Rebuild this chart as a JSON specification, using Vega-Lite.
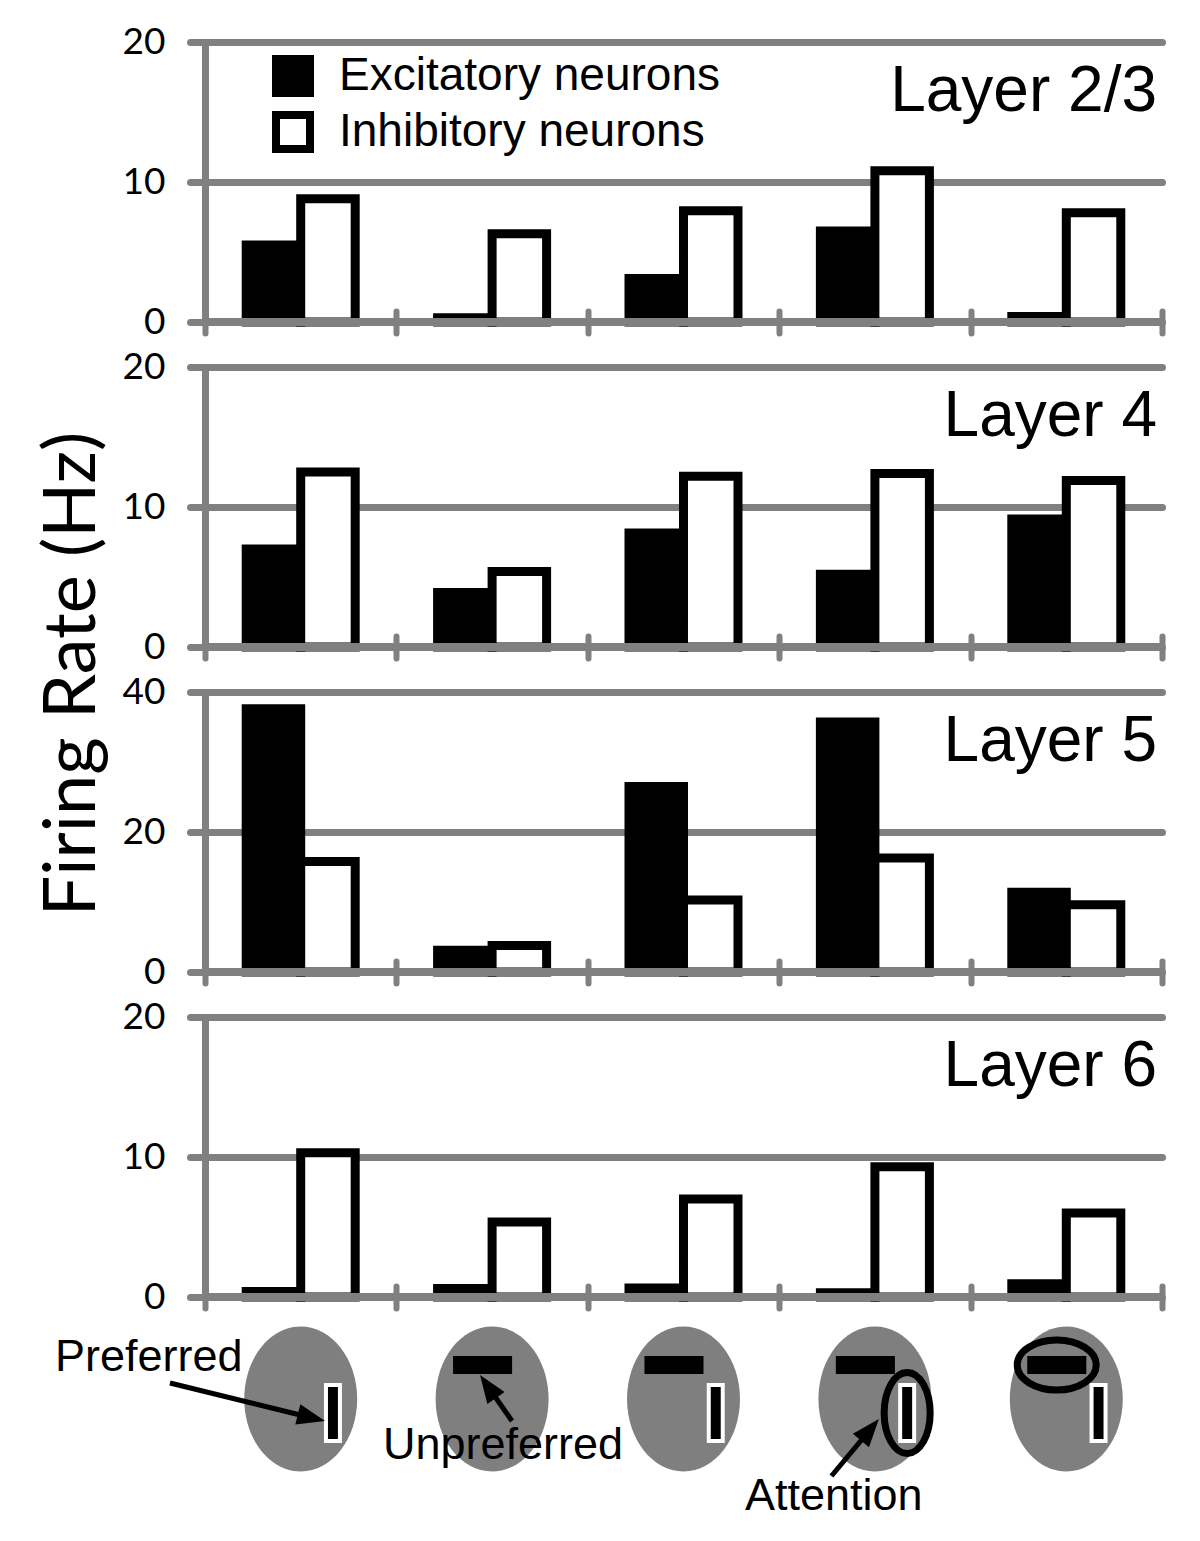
{
  "$schema": "https://vega.github.io/schema/vega-lite/v6.json",
  "padding": {"left": 37, "top": 23, "right": 0, "bottom": 0},
  "background": "white",
  "spacing": 6,
  "datasets": {
    "bars": [
      {"layer": "Layer 2/3", "cond": "Preferred", "type": "Excitatory neurons", "rate": 5.5},
      {"layer": "Layer 2/3", "cond": "Preferred", "type": "Inhibitory neurons", "rate": 8.8},
      {"layer": "Layer 2/3", "cond": "Unpreferred", "type": "Excitatory neurons", "rate": 0.3},
      {"layer": "Layer 2/3", "cond": "Unpreferred", "type": "Inhibitory neurons", "rate": 6.3},
      {"layer": "Layer 2/3", "cond": "Both", "type": "Excitatory neurons", "rate": 3.1},
      {"layer": "Layer 2/3", "cond": "Both", "type": "Inhibitory neurons", "rate": 7.95},
      {"layer": "Layer 2/3", "cond": "Attend preferred", "type": "Excitatory neurons", "rate": 6.5},
      {"layer": "Layer 2/3", "cond": "Attend preferred", "type": "Inhibitory neurons", "rate": 10.8},
      {"layer": "Layer 2/3", "cond": "Attend unpreferred", "type": "Excitatory neurons", "rate": 0.4},
      {"layer": "Layer 2/3", "cond": "Attend unpreferred", "type": "Inhibitory neurons", "rate": 7.8},
      {"layer": "Layer 4", "cond": "Preferred", "type": "Excitatory neurons", "rate": 7.0},
      {"layer": "Layer 4", "cond": "Preferred", "type": "Inhibitory neurons", "rate": 12.5},
      {"layer": "Layer 4", "cond": "Unpreferred", "type": "Excitatory neurons", "rate": 3.9},
      {"layer": "Layer 4", "cond": "Unpreferred", "type": "Inhibitory neurons", "rate": 5.4},
      {"layer": "Layer 4", "cond": "Both", "type": "Excitatory neurons", "rate": 8.15},
      {"layer": "Layer 4", "cond": "Both", "type": "Inhibitory neurons", "rate": 12.2},
      {"layer": "Layer 4", "cond": "Attend preferred", "type": "Excitatory neurons", "rate": 5.2},
      {"layer": "Layer 4", "cond": "Attend preferred", "type": "Inhibitory neurons", "rate": 12.4},
      {"layer": "Layer 4", "cond": "Attend unpreferred", "type": "Excitatory neurons", "rate": 9.15},
      {"layer": "Layer 4", "cond": "Attend unpreferred", "type": "Inhibitory neurons", "rate": 11.9},
      {"layer": "Layer 5", "cond": "Preferred", "type": "Excitatory neurons", "rate": 37.6},
      {"layer": "Layer 5", "cond": "Preferred", "type": "Inhibitory neurons", "rate": 15.8},
      {"layer": "Layer 5", "cond": "Unpreferred", "type": "Excitatory neurons", "rate": 3.1},
      {"layer": "Layer 5", "cond": "Unpreferred", "type": "Inhibitory neurons", "rate": 3.8},
      {"layer": "Layer 5", "cond": "Both", "type": "Excitatory neurons", "rate": 26.5},
      {"layer": "Layer 5", "cond": "Both", "type": "Inhibitory neurons", "rate": 10.3},
      {"layer": "Layer 5", "cond": "Attend preferred", "type": "Excitatory neurons", "rate": 35.7},
      {"layer": "Layer 5", "cond": "Attend preferred", "type": "Inhibitory neurons", "rate": 16.3},
      {"layer": "Layer 5", "cond": "Attend unpreferred", "type": "Excitatory neurons", "rate": 11.4},
      {"layer": "Layer 5", "cond": "Attend unpreferred", "type": "Inhibitory neurons", "rate": 9.6},
      {"layer": "Layer 6", "cond": "Preferred", "type": "Excitatory neurons", "rate": 0.4},
      {"layer": "Layer 6", "cond": "Preferred", "type": "Inhibitory neurons", "rate": 10.3},
      {"layer": "Layer 6", "cond": "Unpreferred", "type": "Excitatory neurons", "rate": 0.6},
      {"layer": "Layer 6", "cond": "Unpreferred", "type": "Inhibitory neurons", "rate": 5.35},
      {"layer": "Layer 6", "cond": "Both", "type": "Excitatory neurons", "rate": 0.65},
      {"layer": "Layer 6", "cond": "Both", "type": "Inhibitory neurons", "rate": 7.0},
      {"layer": "Layer 6", "cond": "Attend preferred", "type": "Excitatory neurons", "rate": 0.3},
      {"layer": "Layer 6", "cond": "Attend preferred", "type": "Inhibitory neurons", "rate": 9.3},
      {"layer": "Layer 6", "cond": "Attend unpreferred", "type": "Excitatory neurons", "rate": 0.95},
      {"layer": "Layer 6", "cond": "Attend unpreferred", "type": "Inhibitory neurons", "rate": 6.0}
    ],
    "stimuli": [{"x": 0.5, "y": 3.9}, {"x": 1.5, "y": 3.9}, {"x": 2.5, "y": 3.9}, {"x": 3.5, "y": 3.9}, {"x": 4.5, "y": 3.9}],
    "vbars": [
      {"x": 0.632, "x2": 0.705, "y": 3.2, "y2": 6.0},
      {"x": 2.632, "x2": 2.705, "y": 3.2, "y2": 6.0},
      {"x": 3.632, "x2": 3.705, "y": 3.2, "y2": 6.0},
      {"x": 4.632, "x2": 4.705, "y": 3.2, "y2": 6.0}
    ],
    "hbars": [
      {"x": 1.296, "x2": 1.6045, "y": 1.75, "y2": 2.65},
      {"x": 2.296, "x2": 2.6045, "y": 1.75, "y2": 2.65},
      {"x": 3.296, "x2": 3.6045, "y": 1.75, "y2": 2.65},
      {"x": 4.296, "x2": 4.6045, "y": 1.75, "y2": 2.65}
    ],
    "attnV": [{"x": 3.6685, "y": 4.6}],
    "attnH": [{"x": 4.45, "y": 2.2}],
    "arrows": [
      {"label": "Preferred", "x": -0.183, "y": 3.1, "x2": 0.556, "y2": 4.835, "angle": 13.8},
      {"label": "Unpreferred", "x": 1.604, "y": 5.0, "x2": 1.4786, "y2": 3.275, "angle": 235.2},
      {"label": "Attention", "x": 3.273, "y": 7.75, "x2": 3.474, "y2": 5.44, "angle": 309.8}
    ],
    "labels": [
      {"text": "Preferred", "x": -0.784, "y": 2.5},
      {"text": "Unpreferred", "x": 0.93, "y": 6.9},
      {"text": "Attention", "x": 2.821, "y": 9.45}
    ]
  },
  "vconcat": [
    {
      "title": {"text": "Firing Rate (Hz)", "orient": "left", "anchor": "middle", "frame": "bounds", "font": "Lato", "fontSize": 72, "fontWeight": "normal", "color": "black", "offset": -60, "baseline": "bottom", "dy": 0},
      "bounds": "flush",
      "spacing": 45,
      "data": {"name": "bars"},
      "vconcat": [
        {
          "width": 957, "height": 280,
          "title": {"text": "Layer 2/3"},
          "transform": [{"filter": "datum.layer == 'Layer 2/3'"}],
          "layer": [
            {"mark": {"type": "bar", "stroke": "black", "strokeWidth": 9},
             "encoding": {
               "x": {"field": "cond", "type": "nominal", "sort": null, "scale": {"paddingInner": 0, "paddingOuter": 0}},
               "xOffset": {"field": "type", "type": "nominal", "sort": ["Excitatory neurons", "Inhibitory neurons"], "scale": {"paddingInner": 0, "paddingOuter": 0.756}},
               "y": {"field": "rate", "type": "quantitative", "scale": {"domain": [0, 20], "nice": false}, "axis": {"values": [0, 10, 20]}},
               "fill": {"field": "type", "type": "nominal", "scale": {"domain": ["Excitatory neurons", "Inhibitory neurons"], "range": ["black", "white"]},
                 "legend": {"orient": "none", "legendX": 65, "legendY": 11, "title": null, "padding": 0, "symbolType": "square", "symbolSize": 1156, "symbolStrokeColor": "black", "symbolStrokeWidth": 8, "symbolOpacity": 1, "labelFont": "Liberation Sans", "labelFontSize": 46, "labelColor": "black", "labelOffset": 23, "rowPadding": -10, "labelLimit": 0}}
             }},
            {"mark": {"type": "rule", "color": "#808080", "strokeWidth": 8}, "encoding": {"y": {"datum": 0}}}
          ]
        },
        {
          "width": 957, "height": 280,
          "title": {"text": "Layer 4"},
          "transform": [{"filter": "datum.layer == 'Layer 4'"}],
          "layer": [
            {"mark": {"type": "bar", "stroke": "black", "strokeWidth": 9},
             "encoding": {
               "x": {"field": "cond", "type": "nominal", "sort": null, "scale": {"paddingInner": 0, "paddingOuter": 0}},
               "xOffset": {"field": "type", "type": "nominal", "sort": ["Excitatory neurons", "Inhibitory neurons"], "scale": {"paddingInner": 0, "paddingOuter": 0.756}},
               "y": {"field": "rate", "type": "quantitative", "scale": {"domain": [0, 20], "nice": false}, "axis": {"values": [0, 10, 20]}},
               "fill": {"field": "type", "type": "nominal", "scale": {"domain": ["Excitatory neurons", "Inhibitory neurons"], "range": ["black", "white"]}, "legend": null}
             }},
            {"mark": {"type": "rule", "color": "#808080", "strokeWidth": 8}, "encoding": {"y": {"datum": 0}}}
          ]
        },
        {
          "width": 957, "height": 280,
          "title": {"text": "Layer 5"},
          "transform": [{"filter": "datum.layer == 'Layer 5'"}],
          "layer": [
            {"mark": {"type": "bar", "stroke": "black", "strokeWidth": 9},
             "encoding": {
               "x": {"field": "cond", "type": "nominal", "sort": null, "scale": {"paddingInner": 0, "paddingOuter": 0}},
               "xOffset": {"field": "type", "type": "nominal", "sort": ["Excitatory neurons", "Inhibitory neurons"], "scale": {"paddingInner": 0, "paddingOuter": 0.756}},
               "y": {"field": "rate", "type": "quantitative", "scale": {"domain": [0, 40], "nice": false}, "axis": {"values": [0, 20, 40]}},
               "fill": {"field": "type", "type": "nominal", "scale": {"domain": ["Excitatory neurons", "Inhibitory neurons"], "range": ["black", "white"]}, "legend": null}
             }},
            {"mark": {"type": "rule", "color": "#808080", "strokeWidth": 8}, "encoding": {"y": {"datum": 0}}}
          ]
        },
        {
          "width": 957, "height": 280,
          "title": {"text": "Layer 6"},
          "transform": [{"filter": "datum.layer == 'Layer 6'"}],
          "layer": [
            {"mark": {"type": "bar", "stroke": "black", "strokeWidth": 9},
             "encoding": {
               "x": {"field": "cond", "type": "nominal", "sort": null, "scale": {"paddingInner": 0, "paddingOuter": 0}},
               "xOffset": {"field": "type", "type": "nominal", "sort": ["Excitatory neurons", "Inhibitory neurons"], "scale": {"paddingInner": 0, "paddingOuter": 0.756}},
               "y": {"field": "rate", "type": "quantitative", "scale": {"domain": [0, 20], "nice": false}, "axis": {"values": [0, 10, 20]}},
               "fill": {"field": "type", "type": "nominal", "scale": {"domain": ["Excitatory neurons", "Inhibitory neurons"], "range": ["black", "white"]}, "legend": null}
             }},
            {"mark": {"type": "rule", "color": "#808080", "strokeWidth": 8}, "encoding": {"y": {"datum": 0}}}
          ]
        }
      ]
    },
    {
      "width": 957, "height": 200,
      "encoding": {
        "x": {"field": "x", "type": "quantitative", "scale": {"domain": [0, 5], "nice": false, "zero": false}, "axis": null},
        "y": {"field": "y", "type": "quantitative", "scale": {"domain": [0, 10], "reverse": true, "nice": false, "zero": false}, "axis": null}
      },
      "layer": [
        {"data": {"name": "stimuli"}, "mark": {"type": "point", "shape": "M0,-1A0.779,1,0,1,1,0,1A0.779,1,0,1,1,0,-1Z", "size": 21025, "filled": true, "color": "#7f7f7f", "opacity": 1, "strokeWidth": 0}},
        {"data": {"name": "hbars"}, "mark": {"type": "rect", "color": "black"}, "encoding": {"x2": {"field": "x2"}, "y2": {"field": "y2"}}},
        {"data": {"name": "vbars"}, "mark": {"type": "rect", "fill": "black", "stroke": "white", "strokeWidth": 4}, "encoding": {"x2": {"field": "x2"}, "y2": {"field": "y2"}}},
        {"data": {"name": "attnV"}, "mark": {"type": "point", "shape": "M0,-1A0.568,1,0,1,1,0,1A0.568,1,0,1,1,0,-1Z", "size": 6561, "filled": false, "stroke": "black", "strokeWidth": 7, "opacity": 1}},
        {"data": {"name": "attnH"}, "mark": {"type": "point", "shape": "M-1,0A1,0.633,0,1,1,1,0A1,0.633,0,1,1,-1,0Z", "size": 6241, "filled": false, "stroke": "black", "strokeWidth": 7, "opacity": 1}},
        {"data": {"name": "arrows"}, "mark": {"type": "rule", "color": "black", "strokeWidth": 5}, "encoding": {"x2": {"field": "x2"}, "y2": {"field": "y2"}}},
        {"data": {"name": "arrows"}, "mark": {"type": "point", "shape": "M1,0L-1,-0.75L-1,0.75Z", "size": 784, "filled": true, "color": "black", "opacity": 1},
         "encoding": {"x": {"field": "x2", "type": "quantitative"}, "y": {"field": "y2", "type": "quantitative"}, "angle": {"field": "angle", "type": "quantitative", "scale": null}}},
        {"data": {"name": "labels"}, "mark": {"type": "text", "align": "left", "baseline": "alphabetic", "font": "Liberation Sans", "fontSize": 45, "color": "black"},
         "encoding": {"text": {"field": "text"}}}
      ]
    }
  ],
  "config": {
    "view": {"stroke": null},
    "font": "Liberation Sans",
    "axisY": {"domainColor": "#808080", "domainWidth": 7, "tickColor": "#808080", "tickWidth": 7, "tickSize": 15, "tickCap": "round", "gridColor": "#808080", "gridWidth": 7, "gridOpacity": 1, "gridCap": "round", "labelFont": "Lato", "labelFontSize": 37, "labelColor": "black", "labelPadding": 25, "title": null},
    "axisX": {"domain": false, "labels": false, "title": null, "grid": false, "tickBand": "extent", "ticks": true, "tickColor": "#808080", "tickWidth": 6, "tickSize": 22, "tickCap": "round", "offset": -11},
    "title": {"anchor": "end", "font": "Liberation Sans", "fontSize": 64, "fontWeight": "normal", "color": "black", "baseline": "alphabetic", "offset": 0, "dy": 105, "dx": -5, "frame": "group"}
  }
}
